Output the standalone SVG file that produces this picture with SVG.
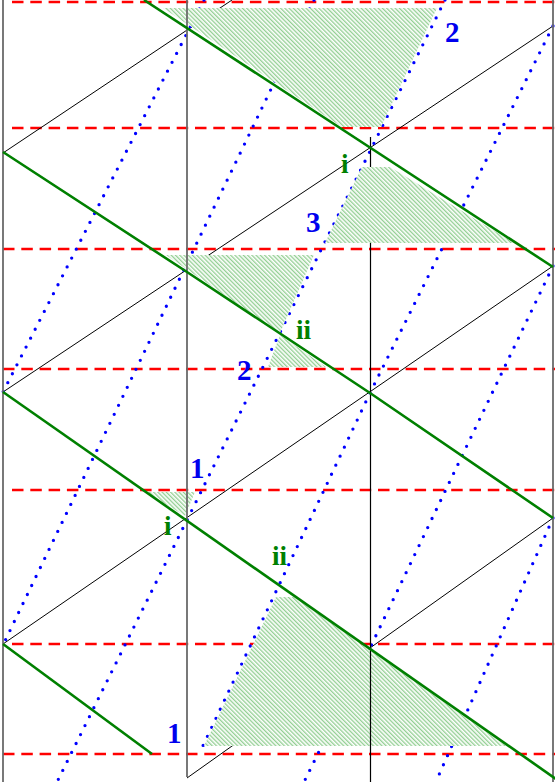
<svg xmlns="http://www.w3.org/2000/svg" width="555" height="782" viewBox="0 0 555 782">
<style>
.red{stroke:#ff0000;stroke-width:2.6;stroke-dasharray:11.5 6.8;fill:none}
.blk{stroke:#000;stroke-width:1;fill:none}
.blu{stroke:#0000ff;stroke-width:3.3;stroke-dasharray:0 10;stroke-linecap:round;fill:none}
.grn{stroke:#008000;stroke-width:2.6;fill:none}
.gry{stroke:#6a6a6a;stroke-width:1.8;fill:none}
.vk{stroke:#000;stroke-width:1.2;fill:none}
.hat{fill:url(#hatch);stroke:none}
.lb{font-family:"Liberation Serif","Times New Roman",serif;font-weight:bold;fill:#0000ee;font-size:29px}
.lg{font-family:"Liberation Serif","Times New Roman",serif;font-weight:bold;fill:#008000;font-size:27px}
</style>
<defs>
<pattern id="hatch" width="3" height="3" patternUnits="userSpaceOnUse" patternTransform="rotate(-45)">
<rect width="3" height="3" fill="#fff"/>
<line x1="0.75" y1="0" x2="0.75" y2="3" stroke="#6fbf6f" stroke-width="1"/>
</pattern>
</defs>
<rect width="555" height="782" fill="#fff"/>
<g id="connectors">
<g id="red-levels">
<line class="red" x1="12" y1="2" x2="555" y2="2"/>
<line class="red" x1="12" y1="128" x2="555" y2="128"/>
<line class="red" x1="3" y1="249" x2="555" y2="249"/>
<line class="red" x1="3" y1="369" x2="555" y2="369"/>
<line class="red" x1="12" y1="490" x2="555" y2="490"/>
<line class="red" x1="12" y1="644" x2="555" y2="644"/>
<line class="red" x1="3" y1="754" x2="555" y2="754"/>
</g>
<g id="black-rays">
<line class="blk" x1="3" y1="153" x2="232" y2="0"/>
<line class="blk" x1="3" y1="392" x2="553" y2="26"/>
<line class="blk" x1="3" y1="644" x2="553" y2="266"/>
<line class="blk" x1="553" y1="518" x2="187" y2="778"/>
</g>
<g id="blue-rays">
<polyline class="blu" points="204,0 3,392"/>
<polyline class="blu" points="314,0 3,645"/>
<polyline class="blu" points="445,0 57,782"/>
<polyline class="blu" points="553,26 370,393 200,752"/>
<polyline class="blu" points="553,266 370,648 304,782"/>
<polyline class="blu" points="553,518 438,777"/>
</g>
<g id="hatched-regions">
<polygon class="hat" points="163,8 437,8 381,127 342,127"/>
<polygon class="hat" points="362,167 390,167 514,243 325,243"/>
<polygon class="hat" points="166,255 314,255 280,333"/>
<polygon class="hat" points="280,335 268,367 326,367"/>
<polygon class="hat" points="146,492 195,492 185,516"/>
<polygon class="hat" points="276,597 294,597 506,746 204,746"/>
</g>
<g id="verticals">
<line class="gry" x1="3" y1="0" x2="3" y2="782"/>
<line class="gry" x1="187" y1="0" x2="187" y2="777"/>
<line class="vk" x1="370.5" y1="137" x2="370.5" y2="167"/>
<line class="vk" x1="370.5" y1="243" x2="370.5" y2="782"/>
<line class="gry" x1="553" y1="0" x2="553" y2="782"/>
</g>
<g id="green-worldlines">
<line class="grn" x1="144" y1="0" x2="553" y2="267"/>
<polyline class="grn" points="3,152 187,272 370,393 553,518"/>
<line class="grn" x1="3" y1="392" x2="556" y2="779"/>
<line class="grn" x1="3" y1="644" x2="152" y2="754"/>
</g>
</g>
<g id="label-2-top"><text class="lb" x="445" y="42">2</text></g>
<g id="label-3"><text class="lb" x="306" y="232">3</text></g>
<g id="label-2-mid"><text class="lb" x="237" y="380">2</text></g>
<g id="label-1-mid"><text class="lb" x="190" y="478">1</text></g>
<g id="label-1-bottom"><text class="lb" x="167" y="743">1</text></g>
<g id="label-i-top"><text class="lg" x="341" y="173">i</text></g>
<g id="label-ii-upper"><text class="lg" x="296" y="339">ii</text></g>
<g id="label-i-mid"><text class="lg" x="164" y="535">i</text></g>
<g id="label-ii-lower"><text class="lg" x="272" y="565">ii</text></g>
</svg>
